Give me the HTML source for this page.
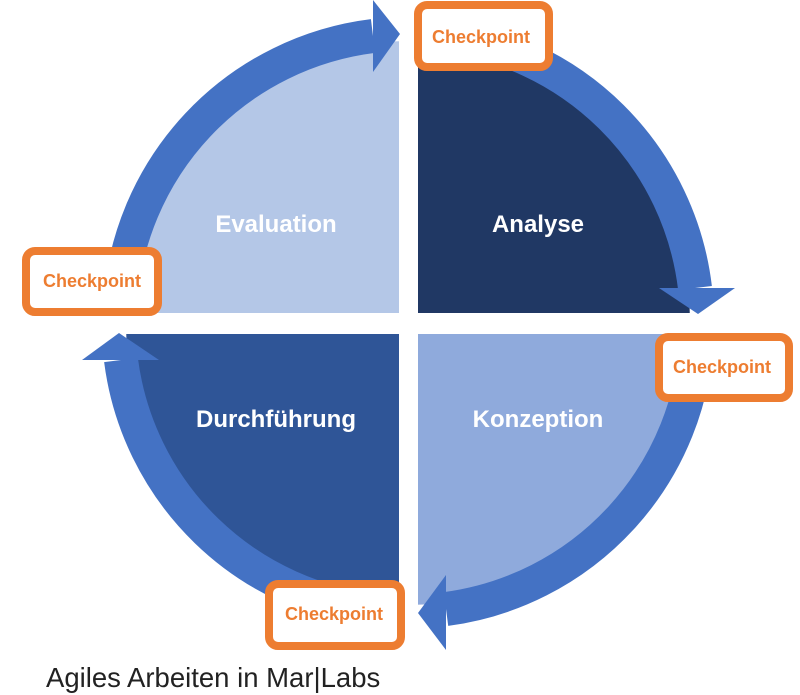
<!DOCTYPE html>
<html><head><meta charset="utf-8"><style>
body{margin:0;background:#fff;width:800px;height:695px;overflow:hidden}
svg{display:block}
</style></head><body>
<svg width="800" height="695" viewBox="0 0 800 695" xmlns="http://www.w3.org/2000/svg" font-family="Liberation Sans, sans-serif">
<!-- quadrants -->
<path d="M408,323 L408,41 A282,282 0 0 1 690,323 Z" fill="#203864"/>
<path d="M408,323 L690,323 A282,282 0 0 1 408,605 Z" fill="#8FAADC"/>
<path d="M408,323 L408,605 A282,282 0 0 1 126,323 Z" fill="#2F5597"/>
<path d="M408,323 L126,323 A282,282 0 0 1 408,41 Z" fill="#B4C7E7"/>
<rect x="399" y="0" width="19" height="640" fill="#fff"/>
<rect x="100" y="313" width="620" height="21" fill="#fff"/>
<!-- ring arrows -->
<g fill="none" stroke="#4472C4" stroke-width="34">
<path d="M120,305 A289,289 0 0 1 373,36"/>
<path d="M440,35 A289,289 0 0 1 695,288"/>
<path d="M697,335 A289,289 0 0 1 446,609"/>
<path d="M380,611 A289,289 0 0 1 121,360"/>
</g>
<g fill="#4472C4">
<polygon points="373,0 400,34 373,72"/>
<polygon points="659,288 735,288 698,314"/>
<polygon points="446,575 446,650 418,613"/>
<polygon points="82,360 159,360 119,333"/>
</g>
<!-- labels -->
<g fill="#fff" font-weight="bold" font-size="24" text-anchor="middle">
<text x="276" y="232">Evaluation</text>
<text x="538" y="232">Analyse</text>
<text x="276" y="427">Durchführung</text>
<text x="538" y="427">Konzeption</text>
</g>
<!-- checkpoints -->
<g fill="#fff" stroke="#ED7D31" stroke-width="8">
<rect x="418" y="5" width="131" height="62" rx="9"/>
<rect x="26" y="251" width="132" height="61" rx="9"/>
<rect x="659" y="337" width="130" height="61" rx="9"/>
<rect x="269" y="584" width="132" height="62" rx="9"/>
</g>
<g fill="#ED7D31" font-weight="bold" font-size="18" text-anchor="middle">
<text x="481" y="43">Checkpoint</text>
<text x="92" y="287">Checkpoint</text>
<text x="722" y="373">Checkpoint</text>
<text x="334" y="620">Checkpoint</text>
</g>
<text x="46" y="687" font-size="27.5" fill="#222">Agiles Arbeiten in Mar|Labs</text>
</svg>
</body></html>
